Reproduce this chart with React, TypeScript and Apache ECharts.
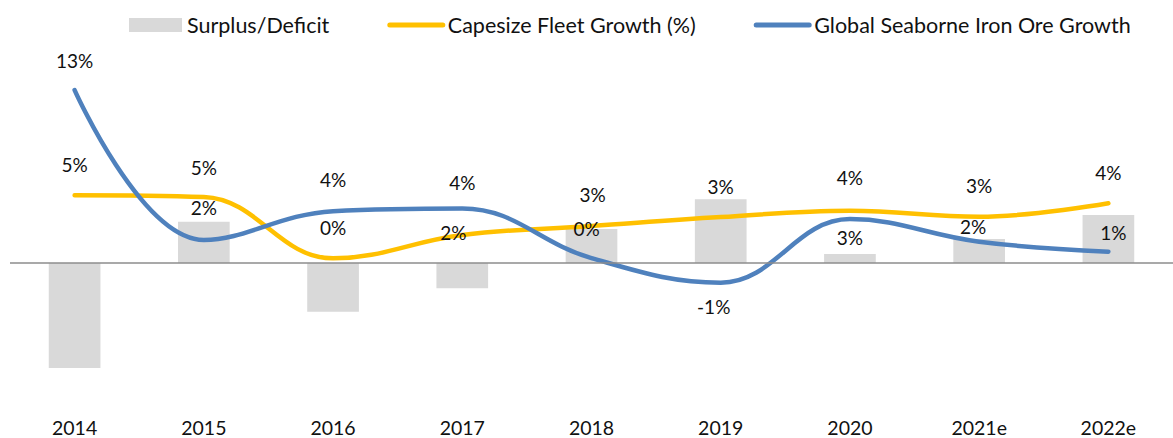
import React, { useEffect, useRef } from "react";
import * as echarts from "echarts";

const categories = ["2014", "2015", "2016", "2017", "2018", "2019", "2020", "2021e", "2022e"];
const surplusDeficit = [-7.9, 3.1, -3.66, -1.9, 2.56, 4.8, 0.68, 1.8, 3.6];
const capesizeGrowth = [5.1, 4.96, 0.35, 2.1, 2.78, 3.45, 3.93, 3.48, 4.49];
const ironOreGrowth = [13.0, 1.73, 3.9, 4.1, 0.37, -1.48, 3.3, 1.6, 0.85];

const capesizeLabelOffsets: [number, number][] = [
  [0, -31], [0, -30], [0, -31], [-9, -3], [1, -32], [0, -31], [0, -33], [0, -31], [0, -31],
];
const ironLabelOffsets: [number, number][] = [
  [0, -30], [0, -32], [0, -32], [0, -26], [-5, -30], [-7, 24], [0, 18], [-6, -15], [5, -19],
];

const FONT = "Lato, 'Open Sans', sans-serif";
const YELLOW = "#FFC000";
const BLUE = "#4F81BD";
const GRAY = "#D9D9D9";

function lineData(values: number[], offsets: [number, number][]) {
  return values.map((v, i) => ({
    value: v,
    label: { offset: offsets[i] },
  }));
}

export default function App() {
  const ref = useRef<HTMLDivElement>(null);
  useEffect(() => {
    if (!ref.current) return;
    const chart = echarts.init(ref.current, undefined, { renderer: "svg" });
    const labelCommon = {
      show: true,
      position: "inside" as const,
      fontFamily: FONT,
      fontSize: 19,
      color: "#111",
      formatter: (p: any) => `${Math.round(p.value)}%`,
    };
    chart.setOption({
      animation: false,
      backgroundColor: "#fff",
      legend: {
        top: 14,
        left: 129,
        padding: 0,
        itemWidth: 53,
        itemHeight: 14,
        itemGap: 58,
        textStyle: { fontFamily: FONT, fontSize: 21.5, color: "#111" },
        lineStyle: { width: 5, cap: "round" },
        data: [
          { name: "Surplus/Deficit", icon: "rect" },
          { name: "Capesize Fleet Growth (%)", itemStyle: { opacity: 0 } },
          { name: "Global Seaborne Iron Ore Growth", itemStyle: { opacity: 0 } },
        ],
      },
      grid: { left: 10, width: 1173, top: 76.8, height: 319.2, containLabel: false },
      xAxis: {
        type: "category",
        data: categories,
        axisLine: { show: false, onZero: false },
        axisTick: { show: false },
        axisLabel: { fontFamily: FONT, fontSize: 19.5, lineHeight: 18, color: "#111", margin: 22 },
      },
      yAxis: {
        type: "value",
        min: -10,
        max: 14,
        show: false,
        splitLine: { show: false },
      },
      series: [
        {
          name: "Surplus/Deficit",
          type: "bar",
          data: surplusDeficit,
          barWidth: "40%",
          itemStyle: { color: GRAY },
          z: 1,
          markLine: {
            silent: true,
            symbol: "none",
            label: { show: false },
            lineStyle: { color: "#8C8C8C", width: 1.5, type: "solid" },
            data: [{ yAxis: 0 }],
          },
        },
        {
          name: "Capesize Fleet Growth (%)",
          type: "line",
          data: lineData(capesizeGrowth, capesizeLabelOffsets),
          smooth: 0.4,
          symbol: "circle",
          symbolSize: 1,
          itemStyle: { color: YELLOW },
          lineStyle: { color: YELLOW, width: 4.5, cap: "round" },
          label: labelCommon,
          z: 3,
        },
        {
          name: "Global Seaborne Iron Ore Growth",
          type: "line",
          data: lineData(ironOreGrowth, ironLabelOffsets),
          smooth: 0.4,
          symbol: "circle",
          symbolSize: 1,
          itemStyle: { color: BLUE },
          lineStyle: { color: BLUE, width: 4.5, cap: "round" },
          label: labelCommon,
          z: 4,
        },
      ],
    });
    return () => chart.dispose();
  }, []);
  return (
    <div
      ref={ref}
      style={{ position: "fixed", left: 0, top: 0, width: 1173, height: 438, background: "#fff" }}
    />
  );
}
